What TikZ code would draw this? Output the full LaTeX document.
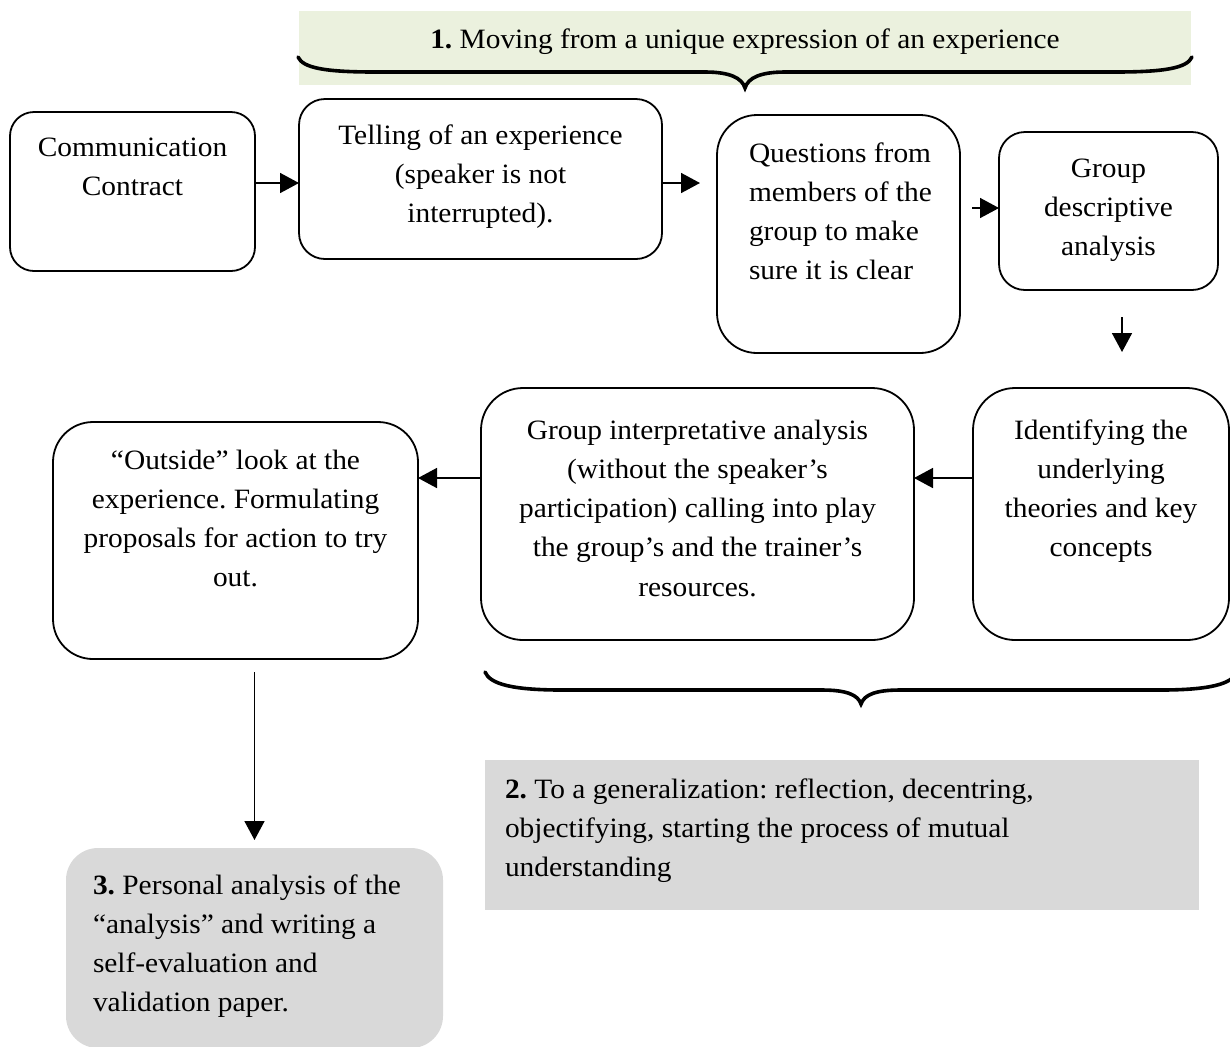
\documentclass[tikz,border=0pt]{standalone}
\usepackage{fontspec}
\setmainfont[FakeStretch=1.05]{Liberation Serif}
\usetikzlibrary{arrows.meta}
\definecolor{bannergreen}{HTML}{EBF1DE}
\definecolor{stepgrey}{HTML}{D9D9D9}
\hyphenpenalty=10000
\exhyphenpenalty=10000
\frenchspacing
% width, height, top space, text
\newcommand{\ctext}[4]{\parbox[c][#2][t]{#1}{\centering\vspace*{#3}\strut#4}}
% width, height, top space, indent, text
\newcommand{\ltext}[5]{\parbox[c][#2][t]{#1}{\raggedright\leftskip=#4\vspace*{#3}\strut#5}}
\tikzset{
  stage/.style={draw, line width=0.9pt, inner sep=0pt, outer sep=0pt,
    font=\fontsize{14}{19.65}\selectfont},
  note/.style={inner sep=0pt, outer sep=0pt, font=\fontsize{14}{19.65}\selectfont},
  arr/.style={-{Triangle[length=9.5pt,width=10pt]}, line width=0.8pt},
  brace/.style={line width=1.8pt, line cap=round}
}
\begin{document}
\begin{tikzpicture}[x=0.5pt,y=-0.5pt]
  \useasboundingbox (0,0) rectangle (1230,1046);
  % phase 1
  \node[note, fill=bannergreen] (banner) at (745,48)
    {\ctext{446pt}{37pt}{4.75pt}{\textbf{1.} Moving from a unique expression of an experience}};
  \draw[brace] (298,57) .. controls (303,68) and (325,72) .. (375,72) -- (705,72)
    .. controls (730,72) and (742,78) .. (745,88)
    .. controls (748,78) and (760,72) .. (785,72) -- (1115,72)
    .. controls (1165,72) and (1187,68) .. (1192,57);
  % boxes
  \node[stage, rounded corners=12pt] (contract) at (132.5,191.5)
    {\ctext{122.5pt}{79.5pt}{8.25pt}{Communication\\Contract}};
  \node[stage, rounded corners=13pt] (telling) at (480.5,179)
    {\ctext{181.5pt}{80pt}{8.75pt}{Telling of an experience\\(speaker is not\\interrupted).}};
  \node[stage, rounded corners=20pt] (questions) at (838.5,234)
    {\ltext{121.5pt}{119pt}{9.75pt}{16pt}{Questions from\\members of the\\group to make\\sure it is clear}};
  \node[stage, rounded corners=13pt] (descriptive) at (1108.5,211)
    {\ctext{109.5pt}{79pt}{8.75pt}{Group\\descriptive\\analysis}};
  \node[stage, rounded corners=21pt] (identifying) at (1101,514)
    {\ctext{128pt}{126pt}{11.75pt}{Identifying the\\underlying\\theories and key\\concepts}};
  \node[stage, rounded corners=21pt] (interpretative) at (697.5,514)
    {\ctext{216.5pt}{126pt}{11.75pt}{Group interpretative analysis\\(without the speaker’s\\participation) calling into play\\the group’s and the trainer’s\\resources.}};
  \node[stage, rounded corners=20pt] (outside) at (235.5,540.5)
    {\ctext{182.5pt}{118.5pt}{9.75pt}{“Outside” look at the\\experience. Formulating\\proposals for action to try\\out.}};
  % arrows
  \draw[arr] (contract.east |- 0,183) -- (telling.west |- 0,183);
  \draw[arr, shorten >=8.5pt] (telling.east |- 0,183) -- (questions.west |- 0,183);
  \draw[arr, shorten <=6pt] (questions.east |- 0,208) -- (descriptive.west |- 0,208);
  \draw[arr, shorten <=13.5pt, shorten >=18pt] (descriptive.south -| 1122,0) -- (identifying.north -| 1122,0);
  \draw[arr] (identifying.west |- 0,478) -- (interpretative.east |- 0,478);
  \draw[arr] (interpretative.west |- 0,478) -- (outside.east |- 0,478);
  % phase 2
  \draw[brace] (485,672) .. controls (490,684) and (512,690) .. (562,690) -- (822,690)
    .. controls (847,690) and (858,695) .. (861,704)
    .. controls (864,695) and (875,690) .. (900,690) -- (1160,690)
    .. controls (1210,690) and (1232,684) .. (1237,672);
  \node[note, fill=stepgrey] (generalize) at (842,835)
    {\ltext{357pt}{75pt}{5.25pt}{10pt}{\textbf{2.} To a generalization: reflection, decentring,\\objectifying, starting the process of mutual\\understanding}};
  % phase 3
  \node[note, fill=stepgrey, rounded corners=16pt] (personal) at (254.5,948)
    {\ltext{188.5pt}{100pt}{9.25pt}{13.5pt}{\textbf{3.} Personal analysis of the\\“analysis” and writing a\\self-evaluation and\\validation paper.}};
  \draw[arr, shorten <=6.5pt, shorten >=4pt] (outside.south -| personal.north) -- (personal.north);
\end{tikzpicture}
\end{document}
